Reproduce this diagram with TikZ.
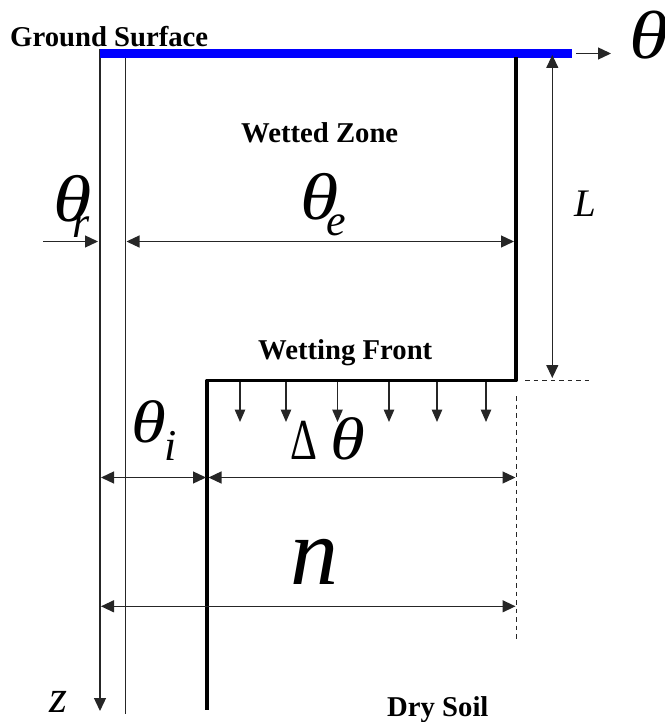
\documentclass[tikz,border=0pt]{standalone}
\usepackage{fontspec}
\setmainfont{Liberation Serif}
\usetikzlibrary{arrows.meta}
\newcommand{\widetheta}{\scalebox{1.18}[1]{θ}}
\begin{document}
\begin{tikzpicture}[x=1pt,y=-1pt,
  thinline/.style={line width=1.3pt, draw=black!85},
  thickline/.style={line width=3.6pt, draw=black, line join=round},
  bluebar/.style={line width=8.5pt, draw={rgb,255:red,0;green,0;blue,255}},
  dimline/.style={thinline, {Triangle[length=13pt,width=12pt]}-{Triangle[length=13pt,width=12pt]}},
  arr/.style={thinline, -{Triangle[length=13pt,width=12pt]}},
  droparr/.style={thinline, -{Triangle[length=12.5pt,width=10.5pt]}},
  dashline/.style={line width=1.1pt, draw=black!85, dash pattern=on 4.5pt off 4pt},
  lbl/.style={inner sep=0pt, anchor=base west, font=\bfseries\fontsize{28.7}{30}\selectfont},
  gk/.style={inner sep=0pt, anchor=base west, font=\itshape\fontsize{#1}{#1}\selectfont},
  sb/.style={inner sep=0pt, anchor=base west, font=\itshape\fontsize{44}{44}\selectfont}]
\useasboundingbox (0,0) rectangle (664,722);

% key coordinates
\coordinate (gsL) at (100,53.5);
\coordinate (gsR) at (572,53.5);
\coordinate (thS) at (576,53.5);
\coordinate (thE) at (611,53.5);
\coordinate (zTop) at (100,49);
\coordinate (zBot) at (100,711);
\coordinate (inTop) at (125.5,49);
\coordinate (inBot) at (125.5,714);
\coordinate (wTop) at (516,57);
\coordinate (wCorner) at (516,380.5);
\coordinate (fCorner) at (207,380.5);
\coordinate (fBot) at (207,710);
\coordinate (Ltop) at (552.3,55);
\coordinate (Lbot) at (552.3,378);
\coordinate (dhS) at (525,380.5);
\coordinate (dhE) at (590,380.5);
\coordinate (dvS) at (516.5,396);
\coordinate (dvE) at (516.5,641);
\coordinate (rS) at (43,241.5);
\coordinate (rE) at (98,241.5);
\coordinate (eS) at (126.5,241.5);
\coordinate (eE) at (514,241.5);
\coordinate (iS) at (101,477.5);
\coordinate (iE) at (206,477.5);
\coordinate (dS) at (208.5,477.5);
\coordinate (dE) at (515.5,477.5);
\coordinate (nS) at (101,606.3);
\coordinate (nE) at (515.5,606.3);

% structure
\draw[thinline] (inTop) -- (inBot);
\draw[arr] (zTop) -- (zBot);
\draw[bluebar] (gsL) -- (gsR);
\draw[arr] (thS) -- (thE);
\draw[thickline] (wTop) -- (wCorner) -- (fCorner) -- (fBot);
\draw[dimline] (Ltop) -- (Lbot);
\draw[dashline] (dhS) -- (dhE);
\draw[dashline] (dvS) -- (dvE);
\draw[arr] (rS) -- (rE);
\draw[dimline] (eS) -- (eE);
\draw[dimline] (iS) -- (iE);
\draw[dimline] (dS) -- (dE);
\draw[dimline] (nS) -- (nE);

% wetting front drop arrows
\foreach \x [count=\k] in {240,286,337.5,389,437,486}{
  \coordinate (da\k) at (\x,382);
  \coordinate (db\k) at (\x,422);
  \draw[droparr] (da\k) -- (db\k);
}

% labels
\node[lbl] (ground) at (10,47) {Ground Surface};
\node[lbl] (wetted) at (241,142.7) {Wetted Zone};
\node[lbl] (front) at (258,359.3) {Wetting Front};
\node[lbl] (dry) at (387,716) {Dry Soil};

\node[gk=68] (thetaAxis) at (629,59) {\widetheta};
\node[gk=39] (Llbl) at (574,216) {L};
\node[gk=46] (zlbl) at (49,712) {z};

\node[gk=66] (thetaR) at (53,221) {\widetheta};
\node[sb] (thetaRs) at (72,237) {r};
\node[gk=66] (thetaE) at (300,219.5) {\widetheta};
\node[sb] (thetaEs) at (326,235) {e};
\node[gk=60] (thetaI) at (131,442) {\widetheta};
\node[sb] (thetaIs) at (164,460) {i};
\node[inner sep=0pt, anchor=base west, font=\fontsize{58}{58}\selectfont] (delta) at (290,459) {\scalebox{0.72}[1]{Δ}};
\node[gk=60] (thetaD) at (330,459) {\widetheta};
\node[gk=96] (nlbl) at (290,584) {n};
\end{tikzpicture}
\end{document}
